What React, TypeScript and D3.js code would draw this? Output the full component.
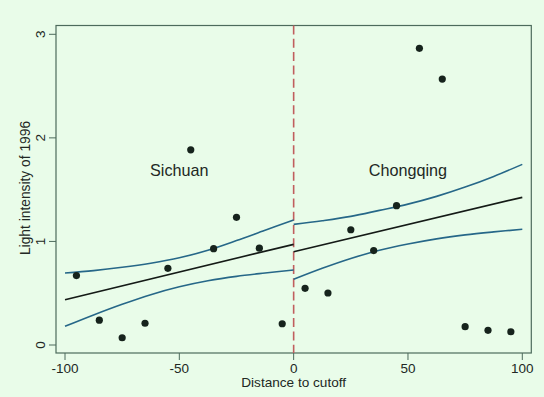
import React from "react";
import * as d3 from "d3";

const W = 544;
const H = 397;

// scatter data
const ptX = [-95, -85, -75, -65, -55, -45, -35, -25, -15, -5, 5, 15, 25, 35, 45, 55, 65, 75, 85, 95];
const ptY = [0.67, 0.24, 0.07, 0.21, 0.74, 1.885, 0.93, 1.233, 0.935, 0.205, 0.547, 0.502, 1.113, 0.912, 1.345, 2.865, 2.568, 0.177, 0.142, 0.128];

// fitted lines
const fitLeftX = [-100, 0];
const fitLeftY = [0.437, 0.972];
const fitRightX = [0, 100];
const fitRightY = [0.9, 1.426];

// confidence bands
const ciLeftX = [-100, -87.5, -75, -62.5, -50, -37.5, -25, -12.5, 0];
const ciLeftUp = [0.695, 0.718, 0.75, 0.79, 0.842, 0.915, 1.008, 1.108, 1.207];
const ciLeftLo = [0.18, 0.29, 0.393, 0.486, 0.562, 0.62, 0.663, 0.695, 0.724];
const ciRightX = [0, 12.5, 25, 37.5, 50, 62.5, 75, 87.5, 100];
const ciRightUp = [1.165, 1.2, 1.242, 1.3, 1.36, 1.435, 1.525, 1.628, 1.744];
const ciRightLo = [0.634, 0.74, 0.835, 0.915, 0.975, 1.025, 1.063, 1.092, 1.117];

// labels & ticks
const regionNames = ["Sichuan", "Chongqing"];
const regionLabelX = [-50, 50];
const regionLabelY = 1.63;
const xTicks = [-100, -50, 0, 50, 100];
const yTicks = [0, 1, 2, 3];
const xTitle = "Distance to cutoff";
const yTitle = "Light intensity of 1996";

const BG = "#e9fce9";
const FRAME = "#4d6b5c";
const TEXT = "#222824";
const CI = "#266788";
const FONT = "'Liberation Sans', Arial, Helvetica, sans-serif";

export default function App() {
  const x = d3.scaleLinear().domain([-100, 100]).range([65, 522.3]);
  const y = d3.scaleLinear().domain([0, 3]).range([345, 34.3]);
  const left = 56, right = 531.3, top = 25.5, bottom = 353;

  const curve = d3
    .line<[number, number]>()
    .x((d) => x(d[0]))
    .y((d) => y(d[1]))
    .curve(d3.curveCatmullRom.alpha(0.5));

  const zip = (a: number[], b: number[]) => a.map((v, i) => [v, b[i]] as [number, number]);

  return (
    <svg
      width={W}
      height={H}
      style={{ position: "absolute", left: 0, top: 0, background: BG }}
      fontFamily={FONT}
    >
      <rect x={0} y={0} width={W} height={H} fill={BG} />
      {/* frame */}
      <rect x={left} y={top} width={right - left} height={bottom - top} fill="none" stroke={FRAME} strokeWidth={1.2} />

      {/* y ticks */}
      {yTicks.map((t) => (
        <g key={"y" + t}>
          <line x1={49} x2={left} y1={y(t)} y2={y(t)} stroke={FRAME} strokeWidth={1} />
          <text
            transform={`translate(${45},${y(t)}) rotate(-90)`}
            textAnchor="middle"
            fontSize={13.5}
            fill={TEXT}
          >
            {t}
          </text>
        </g>
      ))}
      {/* x ticks */}
      {xTicks.map((t) => (
        <g key={"x" + t}>
          <line x1={x(t)} x2={x(t)} y1={bottom} y2={bottom + 7} stroke={FRAME} strokeWidth={1} />
          <text x={x(t)} y={373.3} textAnchor="middle" fontSize={13.5} fill={TEXT}>
            {t}
          </text>
        </g>
      ))}

      <text x={x(0)} y={387} textAnchor="middle" fontSize={13.6} fill={TEXT}>
        {xTitle}
      </text>
      <text
        transform={`translate(${30},${188}) rotate(-90)`}
        textAnchor="middle"
        fontSize={13.8}
        fill={TEXT}
      >
        {yTitle}
      </text>

      {/* cutoff line */}
      <line
        x1={x(0)}
        x2={x(0)}
        y1={top}
        y2={bottom}
        stroke="#c05e5e"
        strokeWidth={1.6}
        strokeDasharray="9,4.3"
      />

      {/* CI bands */}
      <path d={curve(zip(ciLeftX, ciLeftUp)) || ""} fill="none" stroke={CI} strokeWidth={1.6} />
      <path d={curve(zip(ciLeftX, ciLeftLo)) || ""} fill="none" stroke={CI} strokeWidth={1.6} />
      <path d={curve(zip(ciRightX, ciRightUp)) || ""} fill="none" stroke={CI} strokeWidth={1.6} />
      <path d={curve(zip(ciRightX, ciRightLo)) || ""} fill="none" stroke={CI} strokeWidth={1.6} />

      {/* fit lines */}
      <path d={curve(zip(fitLeftX, fitLeftY)) || ""} fill="none" stroke="#141a16" strokeWidth={1.7} />
      <path d={curve(zip(fitRightX, fitRightY)) || ""} fill="none" stroke="#141a16" strokeWidth={1.7} />

      {/* points */}
      {ptX.map((v, i) => (
        <circle key={i} cx={x(v)} cy={y(ptY[i])} r={3.6} fill="#16231c" />
      ))}

      {/* region labels */}
      {regionNames.map((n, i) => (
        <text
          key={n}
          x={x(regionLabelX[i])}
          y={y(regionLabelY)}
          textAnchor="middle"
          fontSize={16.2}
          fill={TEXT}
        >
          {n}
        </text>
      ))}
    </svg>
  );
}
